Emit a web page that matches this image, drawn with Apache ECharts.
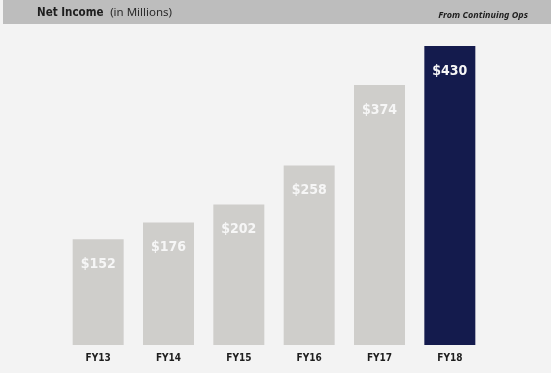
<!DOCTYPE html>
<html><head><meta charset="utf-8">
<script src="https://cdn.jsdelivr.net/npm/echarts@6/dist/echarts.min.js"></script>
<style>html,body{margin:0;padding:0;background:#f3f3f3;}#c{width:551px;height:373px;}</style>
</head><body><div id="c"></div>
<script>
const categories = ['FY13','FY14','FY15','FY16','FY17','FY18'];
const values = [152,176,202,258,374,430];
const valueLabels = ['$152','$176','$202','$258','$374','$430'];
const highlightIndex = 5;

const chart = echarts.init(document.getElementById('c'), null, {renderer:'canvas'});
chart.setOption({
  backgroundColor:'#f3f3f3',
  animation:false,
  graphic:[
    {type:'rect', shape:{x:3,y:0,width:548,height:24}, style:{fill:'#bdbdbd'}},
    {type:'text', left:37, top:7, style:{text:'{b|Net Income}  {n|(in Millions)}', rich:{
      b:{fontFamily:'DejaVu Sans Condensed, Noto Sans', fontWeight:'bold', fontSize:11.5, fill:'#1e1e1e'},
      n:{fontFamily:'Noto Sans', fontSize:11.5, fill:'#2a2a2a'}}}},
    {type:'text', right:23, top:11, style:{text:'From Continuing Ops', fontFamily:'Noto Sans', fontStyle:'italic', fontWeight:'bold', fontSize:9, fill:'#1e1e1e'}}
  ],
  grid:{left:63, right:66, top:46, height:299},
  xAxis:{type:'category', data:categories, axisLine:{show:false}, axisTick:{show:false},
    axisLabel:{color:'#1e1e1e', fontWeight:'bold', fontSize:10, fontFamily:'DejaVu Sans Condensed, Noto Sans', margin:8}},
  yAxis:{type:'value', min:0, max:430, show:false, splitLine:{show:false}},
  series:[{
    type:'bar', barCategoryGap:'27.5%',
    data: values.map((v,i)=>({value:v, itemStyle:{color: i===highlightIndex ? '#141b4d' : '#cfcecb'}})),
    label:{show:true, position:'insideTop', distance:18, color:'#f6f6f6', fontWeight:'bold', fontSize:14,
      fontFamily:'DejaVu Sans Condensed, Noto Sans',
      formatter:(p)=>valueLabels[p.dataIndex]}
  }]
});
</script></body></html>
